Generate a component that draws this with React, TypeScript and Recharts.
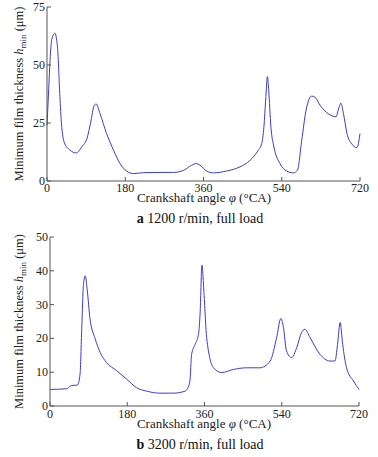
import React from "react";
import { LineChart, Line, XAxis, YAxis } from "recharts";

// crankshaft angle (°CA) and minimum film thickness (μm)
const anglesA = [0, 4, 7, 11, 18, 24, 30, 34, 41, 53, 67, 80, 93, 100, 109, 113, 122, 137, 153, 168, 183, 199, 222, 260, 291, 314, 333, 343, 352, 367, 383, 413, 444, 467, 486, 494, 499, 503, 507, 510, 515, 522, 536, 551, 567, 576, 586, 596, 609, 617, 628, 647, 665, 670, 676, 682, 690, 701, 713, 720];
const hminA = [24, 40, 52, 61, 63.7, 58, 35, 23, 16, 13.3, 12.1, 14.7, 19, 24.8, 32.7, 33.2, 29, 20.5, 13.3, 7.5, 4.3, 3.2, 3.6, 3.7, 3.7, 4.6, 6.8, 7.5, 6.8, 4.3, 3.5, 4.3, 6.1, 8.9, 13.3, 16.2, 23.4, 34.9, 45, 39, 23.4, 14.7, 7.5, 4.3, 3.5, 4.6, 17.6, 30.6, 36.6, 36, 32.7, 29, 27.7, 30.6, 33.5, 29, 20.5, 16, 14.4, 20.5];

const anglesB = [0, 39, 47, 54, 64, 70, 74, 78, 82, 87, 93, 105, 117, 132, 155, 179, 202, 225, 256, 287, 315, 318, 326, 330, 338, 346, 350, 354, 359, 365, 381, 400, 427, 458, 489, 513, 528, 538, 544, 551, 563, 575, 586, 594, 606, 629, 652, 664, 670, 676, 682, 691, 707, 720];
const hminB = [4.9, 5.1, 5.9, 6.1, 6.2, 9.4, 23, 36, 38.5, 34, 26, 20, 15.8, 12.8, 10.5, 7.9, 5.4, 4.4, 3.8, 3.8, 4.4, 4.7, 7.4, 15.3, 18.2, 21.2, 28.1, 41.7, 33, 20.2, 11.3, 9.9, 10.8, 11.3, 11.3, 13.3, 20.2, 25.9, 23.2, 16.3, 14.3, 17.3, 21.7, 22.7, 20.2, 15.3, 13.3, 13.3, 18.2, 24.7, 18.2, 11.3, 7.4, 4.9];

const xTicks = [0, 180, 360, 540, 720];
const yTicksA = [0, 25, 50, 75];
const yTicksB = [0, 10, 20, 30, 40, 50];

const dataA = anglesA.map((a, i) => ({ angle: a, hmin: hminA[i] }));
const dataB = anglesB.map((a, i) => ({ angle: a, hmin: hminB[i] }));

const FONT = "'Liberation Serif', 'Times New Roman', serif";
const FRAME = "#555";
const TICK = 4;

const BottomTick = ({ x, y, payload, dy = 11 }: any) => (
  <g>
    <line x1={x} y1={y} x2={x} y2={y - TICK} stroke={FRAME} />
    <text x={x} y={y + dy} textAnchor="middle" fontSize={12} fontFamily={FONT} fill="#222">
      {payload.value}
    </text>
  </g>
);

const TopTick = ({ x, y }: any) => <line x1={x} y1={y} x2={x} y2={y + TICK} stroke={FRAME} />;

const LeftTick = ({ x, y, payload }: any) => (
  <g>
    <line x1={x} y1={y} x2={x + TICK} y2={y} stroke={FRAME} />
    <text x={x - 2} y={y + 4} textAnchor="end" fontSize={12} fontFamily={FONT} fill="#222">
      {payload.value}
    </text>
  </g>
);

const RightTick = ({ x, y }: any) => <line x1={x} y1={y} x2={x - TICK} y2={y} stroke={FRAME} />;

const yTitle = (cx: number, cy: number) => () => (
  <text
    x={cx}
    y={cy}
    transform={`rotate(-90, ${cx}, ${cy})`}
    textAnchor="middle"
    fontSize={12.5}
    fontFamily={FONT}
    fill="#222"
  >
    Minimum film thickness <tspan fontStyle="italic">h</tspan>
    <tspan fontSize={9} dy={3}>min</tspan>
    <tspan dy={-3}> (μm)</tspan>
  </text>
);

const xTitle = (cx: number, y: number) => () => (
  <text x={cx} y={y} textAnchor="middle" fontSize={13} fontFamily={FONT} fill="#222">
    Crankshaft angle <tspan fontStyle="italic">φ</tspan> (°CA)
  </text>
);

const Panel = ({
  data,
  yMax,
  yTicks,
  height,
  margin,
  yWidth,
  plotBottom,
  tickDy,
  titleDy,
}: {
  data: { angle: number; hmin: number }[];
  yMax: number;
  yTicks: number[];
  height: number;
  margin: { top: number; right: number; left: number; bottom: number };
  yWidth: number;
  plotBottom: number;
  tickDy: number;
  titleDy: number;
}) => (
  <LineChart width={378} height={height} data={data} margin={margin}>
    <XAxis
      dataKey="angle"
      type="number"
      domain={[0, 720]}
      ticks={xTicks}
      interval={0}
      height={height - plotBottom}
      tickSize={0}
      tickMargin={0}
      tickLine={false}
      axisLine={{ stroke: FRAME }}
      tick={(p: any) => <BottomTick {...p} dy={tickDy} />}
      label={{ content: xTitle(204, plotBottom + titleDy) }}
    />
    <XAxis
      xAxisId="top"
      orientation="top"
      dataKey="angle"
      type="number"
      domain={[0, 720]}
      ticks={xTicks}
      interval={0}
      height={0}
      tickSize={0}
      tickMargin={0}
      tickLine={false}
      axisLine={{ stroke: FRAME }}
      tick={TopTick}
    />
    <YAxis
      type="number"
      domain={[0, yMax]}
      ticks={yTicks}
      interval={0}
      width={yWidth}
      tickSize={0}
      tickMargin={0}
      tickLine={false}
      axisLine={{ stroke: FRAME }}
      tick={LeftTick}
      label={{ content: yTitle(23, margin.top + (plotBottom - margin.top) / 2) }}
    />
    <YAxis
      yAxisId="right"
      orientation="right"
      type="number"
      domain={[0, yMax]}
      ticks={yTicks}
      interval={0}
      width={0}
      tickSize={0}
      tickMargin={0}
      tickLine={false}
      axisLine={{ stroke: FRAME }}
      tick={RightTick}
    />
    <Line
      type="monotone"
      dataKey="hmin"
      stroke="#3b3bd6"
      strokeWidth={1}
      dot={false}
      isAnimationActive={false}
    />
  </LineChart>
);

const Caption = ({ top, tag, text }: { top: number; tag: string; text: string }) => (
  <div
    style={{
      position: "absolute",
      top,
      left: 0,
      width: 400,
      textAlign: "center",
      fontFamily: FONT,
      fontSize: 14,
      lineHeight: "16px",
      color: "#111",
    }}
  >
    <b>{tag}</b> {text}
  </div>
);

export default function App() {
  return (
    <div
      style={{
        position: "absolute",
        top: 0,
        left: 0,
        width: 378,
        height: 457,
        background: "#fff",
        overflow: "hidden",
      }}
    >
      <div style={{ position: "absolute", top: 0, left: 0 }}>
        <Panel
          data={dataA}
          yMax={75}
          yTicks={yTicksA}
          height={230}
          margin={{ top: 7, right: 18, left: 0, bottom: 0 }}
          yWidth={47}
          plotBottom={181}
          tickDy={11}
          titleDy={21}
        />
      </div>
      <Caption top={211} tag="a" text="1200 r/min, full load" />
      <div style={{ position: "absolute", top: 228, left: 0 }}>
        <Panel
          data={dataB}
          yMax={50}
          yTicks={yTicksB}
          height={229}
          margin={{ top: 9, right: 19, left: 0, bottom: 0 }}
          yWidth={50}
          plotBottom={178}
          tickDy={12}
          titleDy={22}
        />
      </div>
      <Caption top={437} tag="b" text="3200 r/min, full load" />
    </div>
  );
}
